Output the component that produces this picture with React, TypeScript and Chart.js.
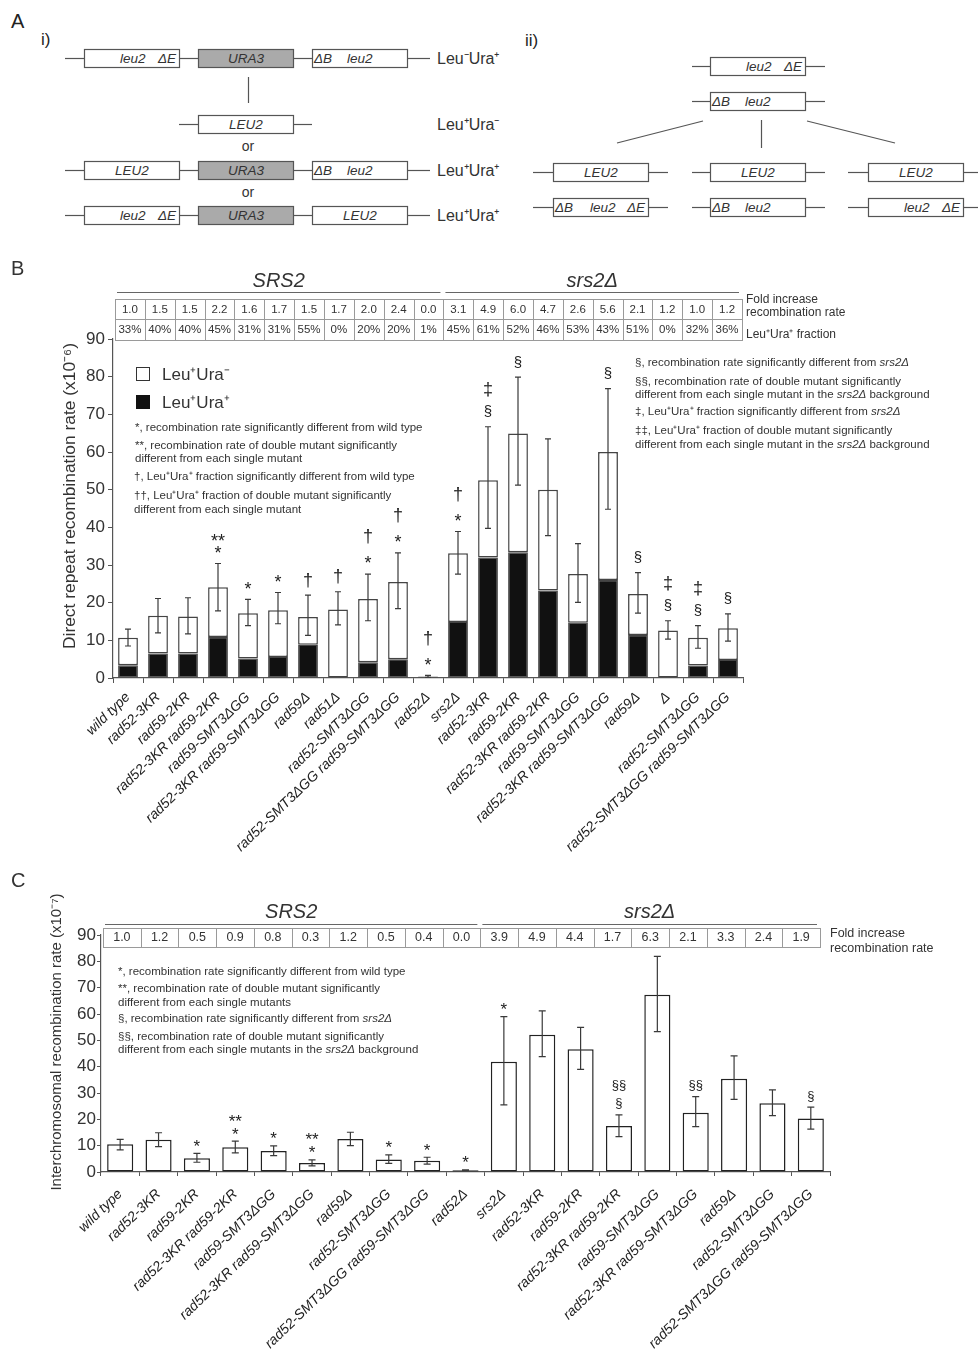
import React, { useEffect, useRef } from 'react';
import { Chart, registerables } from 'chart.js';
Chart.register(...registerables);

const FONT = '"Liberation Sans", Arial, Helvetica, sans-serif';

// ---------- Panel B data ----------
const labelsB = ['wild type', 'rad52-3KR', 'rad59-2KR', 'rad52-3KR rad59-2KR', 'rad59-SMT3ΔGG', 'rad52-3KR rad59-SMT3ΔGG', 'rad59Δ', 'rad51Δ', 'rad52-SMT3ΔGG', 'rad52-SMT3ΔGG rad59-SMT3ΔGG', 'rad52Δ', 'srs2Δ', 'rad52-3KR', 'rad59-2KR', 'rad52-3KR rad59-2KR', 'rad59-SMT3ΔGG', 'rad52-3KR rad59-SMT3ΔGG', 'rad59Δ', 'Δ', 'rad52-SMT3ΔGG', 'rad52-SMT3ΔGG rad59-SMT3ΔGG'];
const totalB = [10.7, 16.5, 16.3, 24.1, 17.2, 18.0, 16.2, 18.2, 21.0, 25.5, 0.4, 33.1, 52.5, 64.9, 50.0, 27.6, 60.0, 22.3, 12.6, 10.7, 13.2];
const leuPlusUraPlusB = [3.4, 6.5, 6.5, 10.9, 5.2, 5.6, 8.8, 0, 4.2, 5.0, 0.1, 14.9, 32.0, 33.4, 23.2, 14.7, 26.0, 11.4, 0, 3.3, 4.8];
const errHiB = [13.0, 21.1, 21.3, 30.4, 20.9, 22.7, 22.0, 22.9, 27.6, 33.2, 0.7, 38.9, 66.7, 79.9, 63.5, 35.7, 76.8, 28.0, 15.2, 13.9, 17.0];
const errLoB = [8.5, 12.0, 11.7, 17.8, 13.9, 14.4, 11.3, 14.1, 15.2, 18.4, 0.2, 27.6, 39.7, 51.2, 37.8, 20.1, 44.8, 17.2, 10.3, 7.9, 9.8];
const foldB = ['1.0', '1.5', '1.5', '2.2', '1.6', '1.7', '1.5', '1.7', '2.0', '2.4', '0.0', '3.1', '4.9', '6.0', '4.7', '2.6', '5.6', '2.1', '1.2', '1.0', '1.2'];
const fractionB = ['33%', '40%', '40%', '45%', '31%', '31%', '55%', '0%', '20%', '20%', '1%', '45%', '61%', '52%', '46%', '53%', '43%', '51%', '0%', '32%', '36%'];
const sigB = [[], [], [], ['*', '**'], ['*'], ['*'], ['†'], ['†'], ['*', '†'], ['*', '†'], ['*', '†'], ['*', '†'], ['§', '‡'], ['§'], [], [], ['§'], ['§'], ['§', '‡'], ['§', '‡'], ['§']];
const groupsB: [string, number, number][] = [['SRS2', 0, 10], ['srs2Δ', 11, 20]];
const titleB = 'Direct repeat recombination rate (x10⁻⁶)';

// ---------- Panel C data ----------
const labelsC = ['wild type', 'rad52-3KR', 'rad59-2KR', 'rad52-3KR rad59-2KR', 'rad59-SMT3ΔGG', 'rad52-3KR rad59-SMT3ΔGG', 'rad59Δ', 'rad52-SMT3ΔGG', 'rad52-SMT3ΔGG rad59-SMT3ΔGG', 'rad52Δ', 'srs2Δ', 'rad52-3KR', 'rad59-2KR', 'rad52-3KR rad59-2KR', 'rad59-SMT3ΔGG', 'rad52-3KR rad59-SMT3ΔGG', 'rad59Δ', 'rad52-SMT3ΔGG', 'rad52-SMT3ΔGG rad59-SMT3ΔGG'];
const rateC = [10.5, 12.2, 5.2, 9.4, 8.0, 3.4, 12.5, 4.7, 4.3, 0.7, 41.9, 52.1, 46.6, 17.5, 67.3, 22.5, 35.4, 26.1, 20.3];
const errHiC = [12.4, 14.9, 7.1, 11.7, 9.9, 4.6, 15.1, 6.5, 5.6, 0.8, 59.0, 61.2, 54.9, 21.7, 81.9, 28.6, 44.1, 31.2, 24.6];
const errLoC = [8.4, 9.6, 3.7, 7.3, 6.2, 2.3, 10.0, 3.3, 3.0, 0.6, 25.5, 43.8, 39.0, 13.4, 53.3, 17.2, 27.6, 21.4, 16.3];
const foldC = ['1.0', '1.2', '0.5', '0.9', '0.8', '0.3', '1.2', '0.5', '0.4', '0.0', '3.9', '4.9', '4.4', '1.7', '6.3', '2.1', '3.3', '2.4', '1.9'];
const sigC = [[], [], ['*'], ['*', '**'], ['*'], ['*', '**'], [], ['*'], ['*'], ['*'], ['*'], [], [], ['§', '§§'], [], ['§§'], [], [], ['§']];
const groupsC: [string, number, number][] = [['SRS2', 0, 9], ['srs2Δ', 10, 18]];
const titleC = 'Interchromosomal recombination rate (x10⁻⁷)';

const isAst = (s: string) => s[0] === '*';

function overlayPlugin(o: any) {
  return {
    id: 'overlay',
    afterDatasetsDraw(chart: any) {
      const { ctx, chartArea: ca, scales } = chart;
      const x = scales.x, y = scales.y;
      ctx.save();
      // error bars
      ctx.strokeStyle = '#3a3a3a';
      ctx.lineWidth = 1.2;
      o.errHi.forEach((hi: number, i: number) => {
        const px = x.getPixelForValue(i);
        const yh = y.getPixelForValue(hi);
        const yl = y.getPixelForValue(o.errLo[i]);
        ctx.beginPath();
        ctx.moveTo(px, yl); ctx.lineTo(px, yh);
        ctx.moveTo(px - o.cap, yh); ctx.lineTo(px + o.cap, yh);
        ctx.moveTo(px - o.cap, yl); ctx.lineTo(px + o.cap, yl);
        ctx.stroke();
        // significance symbols
        let c = yh - o.firstGap;
        let prev = '';
        o.sig[i].forEach((s: string, k: number) => {
          if (k > 0) c -= (isAst(s) && isAst(prev)) ? o.astStep : o.bigStep;
          const fs = o.symFont[s] || 15;
          ctx.font = `${fs}px ${FONT}`;
          ctx.fillStyle = '#222';
          ctx.textAlign = 'center';
          ctx.textBaseline = 'alphabetic';
          const off = isAst(s) ? 0.58 : 0.3;
          ctx.fillText(s, px, c + off * fs);
          prev = s;
        });
      });
      // table
      const x0 = ca.left + o.tl, x1 = ca.right - o.tr;
      const n = o.rows[0].length;
      const cw = (x1 - x0) / n;
      ctx.strokeStyle = '#9a9a9a';
      ctx.lineWidth = 1;
      ctx.font = `${o.tfs}px ${FONT}`;
      ctx.fillStyle = '#333';
      ctx.textAlign = 'center';
      ctx.textBaseline = 'middle';
      o.rows.forEach((row: string[], r: number) => {
        const yt = ca.top + o.rowTops[r], yb = ca.top + o.rowTops[r + 1];
        row.forEach((t, i) => {
          const cx = x0 + i * cw;
          ctx.strokeRect(Math.round(cx) + 0.5, Math.round(yt) + 0.5, Math.round(cx + cw) - Math.round(cx), Math.round(yb) - Math.round(yt));
          ctx.fillText(t, cx + cw / 2, (yt + yb) / 2 + 0.5);
        });
      });
      // group headers
      ctx.strokeStyle = '#666';
      ctx.lineWidth = 1.2;
      o.groups.forEach(([t, a, b]: [string, number, number]) => {
        const la = x0 + a * cw + 2, lb = x0 + (b + 1) * cw - 3;
        ctx.beginPath();
        ctx.moveTo(la, ca.top + o.lineY + 0.5);
        ctx.lineTo(lb, ca.top + o.lineY + 0.5);
        ctx.stroke();
        ctx.font = `italic 20px ${FONT}`;
        ctx.fillStyle = '#333';
        ctx.textAlign = 'center';
        ctx.textBaseline = 'middle';
        ctx.fillText(t, (la + lb) / 2, ca.top + o.headY);
      });
      // side labels
      ctx.font = `${o.sfs}px ${FONT}`;
      ctx.textAlign = 'left';
      ctx.textBaseline = 'middle';
      ctx.fillStyle = '#333';
      o.side.forEach(([t, dy]: [string, number]) => ctx.fillText(t, x1 + o.sideX, ca.top + dy));
      // y axis title
      ctx.save();
      ctx.translate(o.titleX, ca.top + o.titleDY);
      ctx.rotate(-Math.PI / 2);
      ctx.font = `${o.titleFs}px ${FONT}`;
      ctx.textAlign = 'center';
      ctx.textBaseline = 'middle';
      ctx.fillStyle = '#333';
      ctx.fillText(o.title, 0, 0);
      ctx.restore();
      ctx.restore();
    },
  };
}

function axisCommon(tickLen: number) {
  return {
    grid: { display: true, drawOnChartArea: false, drawTicks: true, tickLength: tickLen, color: '#555', lineWidth: 1 },
    border: { display: true, color: '#555', width: 1.2 },
  };
}

function configB(): any {
  return {
    type: 'bar',
    data: {
      labels: labelsB,
      datasets: [
        { label: 'Leu+Ura+', data: leuPlusUraPlusB, backgroundColor: '#111', borderColor: '#444', borderWidth: 1.2, borderSkipped: false, stack: 's' },
        { label: 'Leu+Ura-', data: totalB.map((t, i) => t - leuPlusUraPlusB[i]), backgroundColor: '#fff', borderColor: '#444', borderWidth: 1.5, borderSkipped: false, stack: 's' },
      ],
    },
    options: {
      animation: false,
      responsive: false,
      devicePixelRatio: 1,
      layout: { padding: { left: 0, top: 89, right: 235, bottom: 0 } },
      plugins: { legend: { display: false }, tooltip: { enabled: false } },
      datasets: { bar: { categoryPercentage: 1, barPercentage: 0.66 } },
      scales: {
        x: {
          stacked: true,
          ...axisCommon(5),
          grid: { ...axisCommon(5).grid, offset: true },
          ticks: { autoSkip: false, minRotation: 44, maxRotation: 44, padding: 6, color: '#222', font: { family: FONT, size: 14, style: 'italic' } },
          afterFit: (s: any) => { s.height = 192; },
        },
        y: {
          stacked: true,
          min: 0, max: 90,
          ...axisCommon(5),
          ticks: { stepSize: 10, padding: 3, color: '#333', font: { family: FONT, size: 17 } },
          afterFit: (s: any) => { s.width = 113; },
        },
      },
    },
    plugins: [overlayPlugin({
      errHi: errHiB, errLo: errLoB, sig: sigB, cap: 3,
      firstGap: 15, astStep: 12, bigStep: 22,
      symFont: { '*': 18, '**': 18, '†': 18, '‡': 18, '§': 15 },
      rows: [foldB, fractionB], rowTops: [-40, -20, 1], tl: 2, tr: 1, tfs: 11.5,
      groups: groupsB, lineY: -47, headY: -58,
      side: [['Fold increase', -39], ['recombination rate', -26], ['Leu⁺Ura⁺ fraction', -4]], sideX: 4, sfs: 12,
      title: titleB, titleX: 70, titleDY: 157, titleFs: 17.4,
    })],
  };
}

function configC(): any {
  return {
    type: 'bar',
    data: {
      labels: labelsC,
      datasets: [
        { label: 'rate', data: rateC, backgroundColor: '#fff', borderColor: '#222', borderWidth: 1.5, borderSkipped: false },
      ],
    },
    options: {
      animation: false,
      responsive: false,
      devicePixelRatio: 1,
      layout: { padding: { left: 0, top: 65, right: 148, bottom: 0 } },
      plugins: { legend: { display: false }, tooltip: { enabled: false } },
      datasets: { bar: { categoryPercentage: 1, barPercentage: 0.68 } },
      scales: {
        x: {
          ...axisCommon(4),
          grid: { ...axisCommon(4).grid, offset: true },
          ticks: { autoSkip: false, minRotation: 44, maxRotation: 44, padding: 10, color: '#222', font: { family: FONT, size: 14, style: 'italic' } },
          afterFit: (s: any) => { s.height = 181; },
        },
        y: {
          min: 0, max: 90,
          ...axisCommon(4),
          ticks: { stepSize: 10, padding: 1, color: '#333', font: { family: FONT, size: 17 } },
          afterFit: (s: any) => { s.width = 101; },
        },
      },
    },
    plugins: [overlayPlugin({
      errHi: errHiC, errLo: errLoC, sig: sigC, cap: 3.5,
      firstGap: 11.5, astStep: 13, bigStep: 18,
      symFont: { '*': 17, '**': 17, '§': 13, '§§': 13 },
      rows: [foldC], rowTops: [-7, 12], tl: 2, tr: 10, tfs: 12.5,
      groups: groupsC, lineY: -11, headY: -23,
      side: [['Fold increase', -1], ['recombination rate', 14]], sideX: 10, sfs: 12.5,
      title: titleC, titleX: 57, titleDY: 107, titleFs: 15,
    })],
  };
}

// ---------- Panel A schematic ----------
type Part = [string, number, string?];
const pLeu2dE: Part[] = [['leu2', 36], ['ΔE', 74]];
const pdBleu2: Part[] = [['ΔB', 2], ['leu2', 35]];
const pdBleu2dE: Part[] = [['ΔB', 2], ['leu2', 37], ['ΔE', 74]];
const pLEU2: Part[] = [['LEU2', 48, 'middle']];
const pURA3: Part[] = [['URA3', 48, 'middle']];

function Box({ x, y, parts, grey }: { x: number; y: number; parts: Part[]; grey?: boolean }) {
  return (
    <g>
      <rect x={x + 0.5} y={y - 9 + 0.5} width={95} height={18} fill={grey ? '#aaaaaa' : '#fff'} stroke="#555" strokeWidth={1.2} />
      {parts.map(([t, dx, anchor], i) => (
        <text key={i} x={x + dx} y={y + 5} fontStyle="italic" fontSize={13.5} textAnchor={(anchor as any) || 'start'} fill="#333" fontFamily={FONT}>{t}</text>
      ))}
    </g>
  );
}
const L = ({ x1, x2, y }: { x1: number; x2: number; y: number }) => <line x1={x1} x2={x2} y1={y + 0.5} y2={y + 0.5} stroke="#555" strokeWidth={1.2} />;

function PanelA() {
  const lab = (y: number, t: string) => <text x={437} y={y + 6} fontSize={16} fill="#333" fontFamily={FONT}>{t}</text>;
  const row3 = (y: number, a: Part[], c: Part[]) => (
    <g>
      <L x1={65} x2={84} y={y} />
      <Box x={84} y={y} parts={a} />
      <L x1={180} x2={198} y={y} />
      <Box x={198} y={y} parts={pURA3} grey />
      <L x1={293} x2={312} y={y} />
      <Box x={312} y={y} parts={c} />
      <L x1={408} x2={430} y={y} />
    </g>
  );
  const mid = (x: number, y: number, parts: Part[], l: number, r: number) => (
    <g>
      <L x1={l} x2={x} y={y} />
      <Box x={x} y={y} parts={parts} />
      <L x1={x + 96} x2={r} y={y} />
    </g>
  );
  return (
    <svg width={978} height={245} style={{ position: 'absolute', left: 0, top: 0 }}>
      <text x={11} y={28} fontSize={20} fill="#222" fontFamily={FONT}>A</text>
      <text x={41} y={45} fontSize={17} fill="#222" fontFamily={FONT}>i)</text>
      <text x={525} y={46} fontSize={17} fill="#222" fontFamily={FONT}>ii)</text>
      {row3(58, pLeu2dE, pdBleu2)}
      {lab(58, 'Leu⁻Ura⁺')}
      <line x1={248.5} x2={248.5} y1={77} y2={103} stroke="#555" strokeWidth={1.2} />
      <L x1={179} x2={198} y={124} />
      <Box x={198} y={124} parts={pLEU2} />
      <L x1={293} x2={312} y={124} />
      {lab(124, 'Leu⁺Ura⁻')}
      <text x={248} y={151} fontSize={14} textAnchor="middle" fill="#333" fontFamily={FONT}>or</text>
      {row3(170, pLEU2, pdBleu2)}
      {lab(170, 'Leu⁺Ura⁺')}
      <text x={248} y={197} fontSize={14} textAnchor="middle" fill="#333" fontFamily={FONT}>or</text>
      {row3(215, pLeu2dE, pLEU2)}
      {lab(215, 'Leu⁺Ura⁺')}

      {mid(710, 66, pLeu2dE, 692, 825)}
      {mid(710, 101, pdBleu2, 692, 825)}
      <line x1={703} y1={121} x2={617} y2={143} stroke="#555" strokeWidth={1.2} />
      <line x1={761.5} y1={120} x2={761.5} y2={148} stroke="#555" strokeWidth={1.2} />
      <line x1={807} y1={121} x2={895} y2={143} stroke="#555" strokeWidth={1.2} />
      {mid(553, 172, pLEU2, 533, 668)}
      {mid(710, 172, pLEU2, 692, 825)}
      {mid(868, 172, pLEU2, 848, 978)}
      {mid(553, 207, pdBleu2dE, 533, 668)}
      {mid(710, 207, pdBleu2, 692, 825)}
      {mid(868, 207, pLeu2dE, 848, 978)}
    </svg>
  );
}

const T = ({ x, y, s = 11.5, children }: { x: number; y: number; s?: number; children: any }) => (
  <div style={{ position: 'absolute', left: x, top: y, fontSize: s, lineHeight: 1, transform: 'translateY(-50%)', whiteSpace: 'nowrap', color: '#333' }}>{children}</div>
);
const I = ({ children }: { children: any }) => <i>{children}</i>;

export default function App() {
  const refB = useRef<HTMLCanvasElement>(null);
  const refC = useRef<HTMLCanvasElement>(null);
  useEffect(() => {
    const cb = new Chart(refB.current as HTMLCanvasElement, configB());
    const cc = new Chart(refC.current as HTMLCanvasElement, configC());
    return () => { cb.destroy(); cc.destroy(); };
  }, []);
  return (
    <div style={{ position: 'absolute', left: 0, top: 0, width: 978, height: 1353, background: '#fff', fontFamily: FONT, color: '#333', overflow: 'hidden' }}>
      <PanelA />
      <canvas ref={refB} width={978} height={620} style={{ position: 'absolute', left: 0, top: 250, width: 978, height: 620 }} />
      <canvas ref={refC} width={978} height={483} style={{ position: 'absolute', left: 0, top: 870, width: 978, height: 483 }} />

      <T x={11} y={268} s={20}>B</T>
      <T x={11} y={880} s={20}>C</T>

      {/* legend B */}
      <div style={{ position: 'absolute', left: 136, top: 367, width: 12, height: 12, border: '1px solid #333', background: '#fff' }} />
      <T x={162} y={374} s={17}>Leu⁺Ura⁻</T>
      <div style={{ position: 'absolute', left: 136, top: 395, width: 12, height: 12, border: '1px solid #111', background: '#111' }} />
      <T x={162} y={402} s={17}>Leu⁺Ura⁺</T>

      <T x={135} y={428}>*, recombination rate significantly different from wild type</T>
      <T x={135} y={446}>**, recombination rate of double mutant significantly</T>
      <T x={135} y={459}>different from each single mutant</T>
      <T x={134} y={477}>†, Leu⁺Ura⁺ fraction significantly different from wild type</T>
      <T x={134} y={496}>††, Leu⁺Ura⁺ fraction of double mutant significantly</T>
      <T x={134} y={510}>different from each single mutant</T>

      <T x={635} y={363}>§, recombination rate significantly different from <I>srs2Δ</I></T>
      <T x={635} y={382}>§§, recombination rate of double mutant significantly</T>
      <T x={635} y={395}>different from each single mutant in the <I>srs2Δ</I> background</T>
      <T x={635} y={412}>‡, Leu⁺Ura⁺ fraction significantly different from <I>srs2Δ</I></T>
      <T x={635} y={431}>‡‡, Leu⁺Ura⁺ fraction of double mutant significantly</T>
      <T x={635} y={445}>different from each single mutant in the <I>srs2Δ</I> background</T>

      <T x={118} y={972}>*, recombination rate significantly different from wild type</T>
      <T x={118} y={989}>**, recombination rate of double mutant significantly</T>
      <T x={118} y={1003}>different from each single mutants</T>
      <T x={118} y={1019}>§, recombination rate significantly different from <I>srs2Δ</I></T>
      <T x={118} y={1037}>§§, recombination rate of double mutant significantly</T>
      <T x={118} y={1050}>different from each single mutants in the <I>srs2Δ</I> background</T>
    </div>
  );
}
